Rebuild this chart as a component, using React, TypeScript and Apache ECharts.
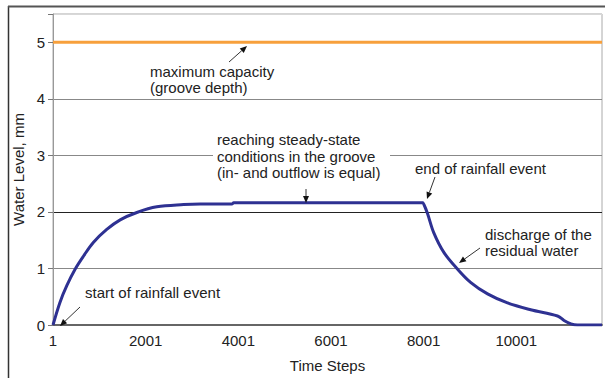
import React, { useEffect, useRef } from "react";
import * as echarts from "echarts";

// Simulated water level in the groove (time step offset from 1, level in mm)
const stepOffsets = [
  0, 150, 300, 480, 660, 870, 1160, 1450, 1810, 2240, 2820, 3180, 3860, 3900,
  7990, 8000, 8080, 8220, 8440, 8730, 9020, 9380, 9810, 10310, 10890, 11030,
  11180, 11320, 11850,
];
const waterLevels = [
  0, 0.4, 0.7, 0.99, 1.22, 1.46, 1.69, 1.86, 1.99, 2.09, 2.13, 2.14, 2.14, 2.16,
  2.16, 2.16, 1.98, 1.63, 1.28, 0.99, 0.75, 0.55, 0.39, 0.27, 0.16, 0.08, 0.02,
  0, 0,
];
const grooveDepth = 5;
const stepRange = [0, 11850];
const stepInterval = 2000;
const levelRange = [0, 5.5];

const FONT = '"Liberation Sans", Arial, Helvetica, sans-serif';
const INK = "#222";

type Note = { text: string; x: number; y: number; lh: number };
type Arrow = { from: [number, number]; to: [number, number] };

const notes: Note[] = [
  { text: "maximum capacity\n(groove depth)", x: 150, y: 63, lh: 16 },
  {
    text: "reaching steady-state\nconditions in the groove\n(in- and outflow is equal)",
    x: 217,
    y: 131.5,
    lh: 16.5,
  },
  { text: "end of rainfall event", x: 415, y: 160, lh: 16 },
  { text: "discharge of the\nresidual water", x: 485, y: 227, lh: 15.5 },
  { text: "start of rainfall event", x: 85, y: 284, lh: 16 },
];

const arrows: Arrow[] = [
  { from: [229, 62], to: [247, 46] },
  { from: [306, 189], to: [306, 203] },
  { from: [435, 177], to: [427, 199] },
  { from: [480, 248], to: [459, 263] },
  { from: [80, 307], to: [60, 326] },
];

function arrowShapes(a: Arrow) {
  const [x1, y1] = a.from;
  const [x2, y2] = a.to;
  const len = Math.hypot(x2 - x1, y2 - y1);
  const ux = (x2 - x1) / len;
  const uy = (y2 - y1) / len;
  const headL = 7;
  const headW = 3;
  const bx = x2 - ux * headL;
  const by = y2 - uy * headL;
  return [
    {
      type: "line",
      shape: { x1, y1, x2: bx, y2: by },
      style: { stroke: "#333", lineWidth: 1 },
      z: 100,
    },
    {
      type: "polygon",
      shape: {
        points: [
          [x2, y2],
          [bx - uy * headW, by + ux * headW],
          [bx + uy * headW, by - ux * headW],
        ],
      },
      style: { fill: "#111" },
      z: 100,
    },
  ];
}

export default function App() {
  const ref = useRef<HTMLDivElement>(null);

  useEffect(() => {
    document.body.style.margin = "0";
    document.body.style.overflow = "hidden";
    if (!ref.current) return;
    const chart = echarts.init(ref.current, undefined, { renderer: "svg" });

    const levelData = stepOffsets.map((s, i) => [s, waterLevels[i]]);
    const capacityData = [
      [stepRange[0], grooveDepth],
      [stepRange[1], grooveDepth],
    ];

    const graphics: any[] = [
      // outer frame
      {
        type: "line",
        shape: { x1: 8.5, y1: 6, x2: 8.5, y2: 378 },
        style: { stroke: "#333", lineWidth: 1.5 },
      },
      {
        type: "line",
        shape: { x1: 8, y1: 6.5, x2: 605, y2: 6.5 },
        style: { stroke: "#555", lineWidth: 2 },
      },
      // white backing behind the steady-state note
      {
        type: "rect",
        shape: { x: 213, y: 130, width: 177, height: 52 },
        style: { fill: "#fff" },
        z: 50,
      },
    ];
    notes.forEach((n) => {
      graphics.push({
        type: "text",
        x: n.x,
        y: n.y,
        z: 100,
        style: {
          text: n.text,
          fill: INK,
          font: `15px ${FONT}`,
          lineHeight: n.lh,
          verticalAlign: "top",
          align: "left",
        },
      });
    });
    arrows.forEach((a) => graphics.push(...arrowShapes(a)));

    chart.setOption({
      animation: false,
      backgroundColor: "#fff",
      grid: {
        left: 53,
        right: 3,
        top: 14,
        bottom: 50,
        show: true,
        borderColor: "#aaa",
        borderWidth: 1,
      },
      xAxis: {
        type: "value",
        min: stepRange[0],
        max: stepRange[1],
        interval: stepInterval,
        name: "Time Steps",
        nameLocation: "middle",
        nameGap: 33,
        nameTextStyle: { color: INK, fontSize: 15, fontFamily: FONT },
        axisLine: { lineStyle: { color: "#666", width: 2 } },
        axisTick: { show: false },
        splitLine: { show: false },
        axisLabel: {
          color: INK,
          fontSize: 15,
          fontFamily: FONT,
          margin: 8,
          showMaxLabel: false,
          formatter: (v: number) => (v % stepInterval === 0 ? String(v + 1) : ""),
        },
      },
      yAxis: {
        type: "value",
        min: levelRange[0],
        max: levelRange[1],
        interval: 1,
        name: "Water Level, mm",
        nameLocation: "middle",
        nameGap: 25,
        nameTextStyle: { color: INK, fontSize: 15, fontFamily: FONT },
        axisLine: { show: true, lineStyle: { color: "#999", width: 1 } },
        axisTick: { show: true, length: 5, lineStyle: { color: "#777" } },
        axisLabel: {
          color: INK,
          fontSize: 15,
          fontFamily: FONT,
          margin: 8,
          formatter: (v: number) => (Number.isInteger(v) ? String(v) : ""),
        },
        splitLine: {
          show: true,
          lineStyle: {
            color: ["#888", "#888", "#222", "#888", "#888", "#888", "#d8d8d8"],
            width: 1,
          },
        },
      },
      series: [
        {
          name: "maximum capacity",
          type: "line",
          data: capacityData,
          showSymbol: false,
          lineStyle: { color: "#f7a03c", width: 3 },
          z: 3,
        },
        {
          name: "water level",
          type: "line",
          data: levelData,
          showSymbol: false,
          smooth: 0.35,
          lineStyle: { color: "#2e3192", width: 3 },
          z: 4,
        },
      ],
      graphic: graphics,
    });

    return () => chart.dispose();
  }, []);

  return <div ref={ref} style={{ width: 605, height: 378 }} />;
}
